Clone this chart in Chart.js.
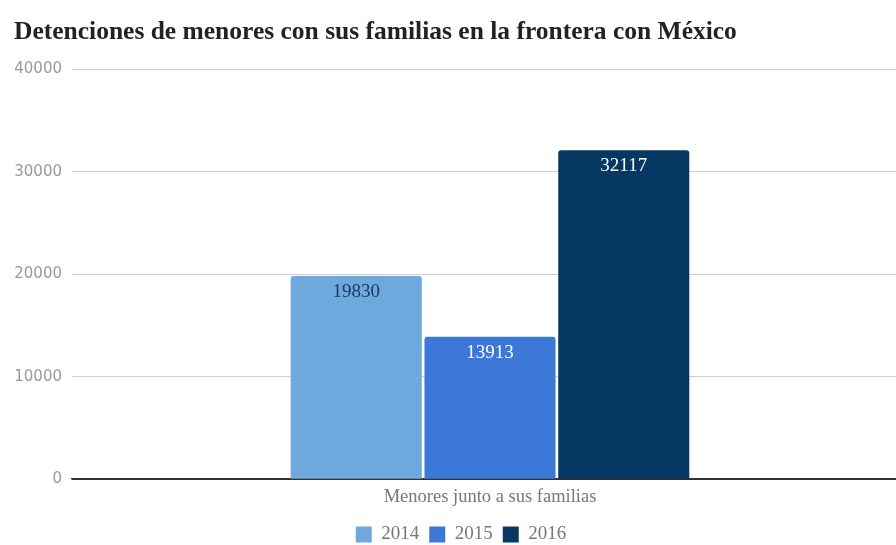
<!DOCTYPE html>
<html>
<head>
<meta charset="utf-8">
<script src="https://cdn.jsdelivr.net/npm/chart.js@4.4.0/dist/chart.umd.min.js"></script>
<style>
  html, body { margin: 0; padding: 0; background: #fff; overflow: hidden; }
  #wrap { width: 908px; height: 545px; }
</style>
</head>
<body>
<div id="wrap"><canvas id="chart"></canvas></div>
<script>
const categories = ["Menores junto a sus familias"];
const years = ["2014", "2015", "2016"];
const values2014 = [19830];
const values2015 = [13913];
const values2016 = [32117];
const yTicks = [0, 10000, 20000, 30000, 40000];

const colors = ["#6fa8dc", "#3c78d8", "#073763"];
const labelColors = ["#1c3a66", "#ffffff", "#ffffff"];

// writes each bar's value just under its top edge
const barValues = {
  id: "barValues",
  afterDatasetsDraw(chart) {
    const ctx = chart.ctx;
    ctx.save();
    ctx.font = "19px 'Liberation Serif'";
    ctx.textAlign = "center";
    ctx.textBaseline = "middle";
    chart.data.datasets.forEach((ds, i) => {
      chart.getDatasetMeta(i).data.forEach((bar, j) => {
        ctx.fillStyle = labelColors[i];
        ctx.fillText(String(ds.data[j]), bar.x, bar.y + 16);
      });
    });
    ctx.restore();
  }
};

new Chart(document.getElementById("chart"), {
  type: "bar",
  data: {
    labels: categories,
    datasets: [
      { label: years[0], data: values2014, backgroundColor: colors[0] },
      { label: years[1], data: values2015, backgroundColor: colors[1] },
      { label: years[2], data: values2016, backgroundColor: colors[2] }
    ]
  },
  options: {
    responsive: true,
    maintainAspectRatio: false,
    animation: false,
    categoryPercentage: 0.48,
    barPercentage: 0.98,
    borderRadius: { topLeft: 3, topRight: 3 },
    layout: { padding: { left: 14, right: 0, top: 4, bottom: -9 } },
    plugins: {
      title: {
        display: true,
        text: "Detenciones de menores con sus familias en la frontera con México",
        align: "start",
        color: "#222",
        font: { family: "'Liberation Serif'", size: 25.5, weight: "bold" },
        padding: { top: 13, bottom: 22 }
      },
      legend: {
        position: "bottom",
        labels: {
          boxWidth: 16,
          boxHeight: 16,
          padding: 10,
          color: "#777",
          font: { family: "'Liberation Serif'", size: 19 }
        }
      },
      tooltip: { enabled: false }
    },
    scales: {
      x: {
        grid: { display: false, drawTicks: false },
        border: { color: "#333", width: 1.5 },
        ticks: {
          color: "#777",
          font: { family: "'Liberation Serif'", size: 18.5, lineHeight: 0.75 },
          padding: 11
        }
      },
      y: {
        min: 0,
        max: 40000,
        afterBuildTicks(axis) {
          axis.ticks = yTicks.map(v => ({ value: v }));
        },
        afterFit(scale) {
          scale.width = 58;
        },
        border: { display: false },
        grid: {
          color: ctx => ctx.tick.value === 0 ? "#333" : "#cfcfcf",
          drawTicks: false
        },
        ticks: {
          color: "#999",
          font: { family: "'DejaVu Sans'", size: 15 },
          padding: 10,
          callback: v => String(v)
        }
      }
    }
  },
  plugins: [barValues]
});
</script>
</body>
</html>
